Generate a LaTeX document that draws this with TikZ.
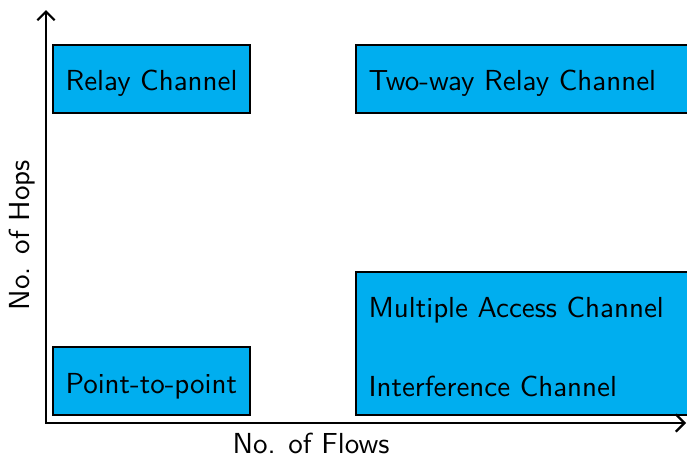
\documentclass[tikz,border=0pt]{standalone}
\usetikzlibrary{arrows.meta}
\definecolor{boxcyan}{RGB}{0,174,239}
\begin{document}
\begin{tikzpicture}[x=0.345pt,y=-0.345pt,font=\sffamily,
  chanbox/.style={draw=black,fill=boxcyan,line width=0.45pt},
  chantext/.style={anchor=base west,inner sep=0pt},
  axis/.style={line width=0.75pt,{Straight Barb[length=3pt,width=6pt]}-{Straight Barb[length=3pt,width=6pt]}}]
\useasboundingbox (0,0) rectangle (687,455);
% boxes
\draw[chanbox] (53,45) rectangle (250,113);
\draw[chanbox] (356,45) rectangle (700,113);
\draw[chanbox] (53,347) rectangle (250,415);
\draw[chanbox] (356,272) rectangle (700,415);
% texts
\node[chantext] (relay) at (65,90) {Relay Channel};
\node[chantext] (twoway) at (368,90) {Two-way Relay Channel};
\node[chantext] (p2p) at (65,393) {Point-to-point};
\node[chantext] (mac) at (368,317) {Multiple Access Channel};
\node[chantext] (ic) at (368,396) {Interference Channel};
% axes
\coordinate (o) at (46,423);
\coordinate (ytop) at (46,10);
\coordinate (xend) at (686,423);
\draw[axis] (ytop) -- (o) -- (xend);
\node (xlab) at (311,443) {No. of Flows};
\node[rotate=90] (ylab) at (22,235) {No. of Hops};
\end{tikzpicture}
\end{document}
